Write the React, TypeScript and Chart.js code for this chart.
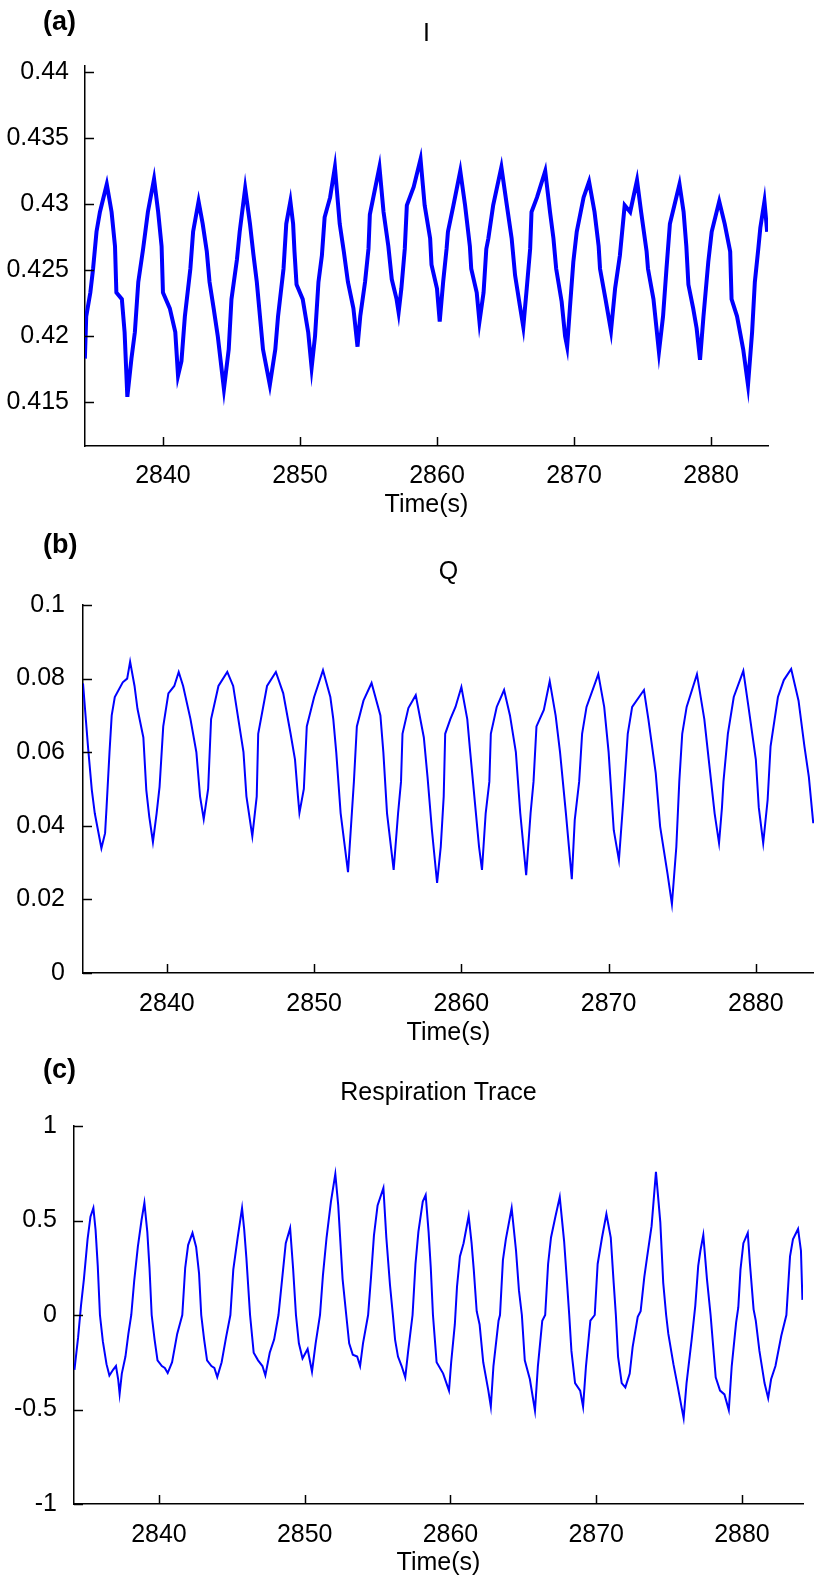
import React, { useEffect, useRef } from "react";
import { Chart, registerables } from "chart.js";
Chart.register(...registerables);

const X_TICKS = [2840, 2850, 2860, 2870, 2880];
const X_TICK_LABELS = ["2840", "2850", "2860", "2870", "2880"];
const I_TICKS = [0.415, 0.42, 0.425, 0.43, 0.435, 0.44];
const I_TICK_LABELS = ["0.415", "0.42", "0.425", "0.43", "0.435", "0.44"];
const Q_TICKS = [0, 0.02, 0.04, 0.06, 0.08, 0.1];
const Q_TICK_LABELS = ["0", "0.02", "0.04", "0.06", "0.08", "0.1"];
const R_TICKS = [-1, -0.5, 0, 0.5, 1];
const R_TICK_LABELS = ["-1", "-0.5", "0", "0.5", "1"];

const I_TIME = [
  2834.3, 2834.4, 2834.7, 2834.9, 2835.15, 2835.4, 2835.9, 2836.25, 2836.5, 2836.6, 2837.0, 2837.2, 2837.4, 2837.7, 2837.95,
  2838.2, 2838.55, 2838.9, 2839.35, 2839.65, 2839.9, 2840.0, 2840.5, 2840.9, 2841.1, 2841.35, 2841.6, 2842.0, 2842.2, 2842.6,
  2842.9, 2843.2, 2843.4, 2843.7, 2844.0, 2844.45, 2844.8, 2845.0, 2845.4, 2845.6, 2846.0, 2846.35, 2846.6, 2846.85, 2847.3,
  2847.8, 2848.2, 2848.4, 2848.8, 2849.0, 2849.3, 2849.5, 2849.6, 2849.75, 2850.2, 2850.6, 2850.85, 2851.1, 2851.35, 2851.6,
  2851.8, 2852.2, 2852.55, 2852.9, 2853.2, 2853.5, 2853.9, 2854.2, 2854.4, 2854.75, 2855.0, 2855.1, 2855.8, 2856.1, 2856.45,
  2856.7, 2857.05, 2857.2, 2857.4, 2857.65, 2857.8, 2858.3, 2858.8, 2859.1, 2859.5, 2859.6, 2860.0, 2860.2, 2860.45, 2860.7,
  2860.8, 2861.2, 2861.7, 2862.05, 2862.4, 2862.5, 2862.9, 2863.1, 2863.4, 2863.6, 2863.75, 2864.1, 2864.7, 2865.1, 2865.45,
  2865.7, 2866.05, 2866.3, 2866.55, 2866.8, 2866.9, 2867.3, 2867.9, 2868.25, 2868.5, 2868.7, 2869.1, 2869.35, 2869.5, 2869.7,
  2869.95, 2870.2, 2870.7, 2871.1, 2871.5, 2871.8, 2871.9, 2872.3, 2872.7, 2873.0, 2873.35, 2873.7, 2874.1, 2874.6, 2874.9,
  2875.3, 2875.4, 2875.8, 2876.2, 2876.5, 2876.75, 2877.0, 2877.7, 2878.0, 2878.2, 2878.35, 2878.7, 2878.95, 2879.2, 2879.45,
  2879.8, 2880.05, 2880.6, 2881.0, 2881.4, 2881.5, 2881.9, 2882.35, 2882.7, 2883.0, 2883.2, 2883.45, 2883.6, 2883.9, 2884.1,
];
const I_VALUE = [
  0.4183, 0.4215, 0.4233, 0.4251, 0.4279, 0.4294, 0.4315, 0.4294, 0.4268, 0.4233, 0.4228, 0.4203, 0.4154, 0.4183, 0.4203,
  0.4241, 0.4266, 0.4294, 0.4319, 0.4294, 0.4268, 0.4233, 0.4221, 0.4203, 0.417, 0.4181, 0.4215, 0.4251, 0.4279, 0.4302,
  0.4285, 0.4264, 0.4241, 0.4221, 0.42, 0.416, 0.419, 0.4228, 0.4258, 0.4279, 0.4312, 0.4285, 0.4262, 0.4241, 0.419,
  0.4163, 0.419, 0.4215, 0.4251, 0.4285, 0.4302, 0.4285, 0.4264, 0.4239, 0.4228, 0.4203, 0.4176, 0.42, 0.4241, 0.4261,
  0.429, 0.4305, 0.4328, 0.4285, 0.4264, 0.4241, 0.4221, 0.4192, 0.4215, 0.4241, 0.4266, 0.4292, 0.4328, 0.4294, 0.4268,
  0.4243, 0.4228, 0.4218, 0.4236, 0.4266, 0.4299, 0.4313, 0.4334, 0.4299, 0.4274, 0.4254, 0.4236, 0.4211, 0.4241, 0.4266,
  0.4279, 0.4299, 0.4325, 0.4299, 0.4268, 0.4251, 0.4233, 0.4211, 0.4233, 0.4266, 0.4274, 0.4299, 0.4328, 0.4299, 0.4274,
  0.4246, 0.4223, 0.4207, 0.4236, 0.4266, 0.4294, 0.4305, 0.4325, 0.4294, 0.4274, 0.4251, 0.4226, 0.42, 0.4192, 0.4221,
  0.4256, 0.4279, 0.4305, 0.4317, 0.4294, 0.4268, 0.4251, 0.4228, 0.4204, 0.4236, 0.4261, 0.4299, 0.4294, 0.4318, 0.4294,
  0.4264, 0.4251, 0.4228, 0.4188, 0.4215, 0.4251, 0.4285, 0.4315, 0.4294, 0.4268, 0.4239, 0.4221, 0.4206, 0.4182, 0.4215,
  0.4256, 0.4279, 0.4302, 0.4285, 0.4264, 0.4228, 0.4215, 0.419, 0.4163, 0.4203, 0.4241, 0.4266, 0.4282, 0.4302, 0.4279,
];

const Q_TIME = [
  2834.3, 2834.65, 2834.9, 2835.1, 2835.55, 2835.8, 2835.9, 2836.1, 2836.25, 2836.46, 2837.0, 2837.3, 2837.5, 2837.8, 2838.0,
  2838.4, 2838.6, 2838.8, 2839.05, 2839.3, 2839.5, 2839.75, 2840.1, 2840.5, 2840.8, 2841.1, 2841.6, 2842.0, 2842.25, 2842.5,
  2842.8, 2843.0, 2843.5, 2844.1, 2844.5, 2844.85, 2845.2, 2845.4, 2845.8, 2846.1, 2846.2, 2846.8, 2847.4, 2847.9, 2848.4,
  2848.7, 2848.9, 2849.0, 2849.3, 2849.5, 2850.0, 2850.6, 2851.1, 2851.3, 2851.5, 2851.8, 2852.3, 2852.56, 2852.7, 2852.9,
  2853.35, 2853.9, 2854.5, 2854.7, 2854.95, 2855.4, 2855.7, 2855.9, 2856.0, 2856.4, 2856.9, 2857.45, 2857.7, 2858.0, 2858.35,
  2858.6, 2858.8, 2858.9, 2859.25, 2859.6, 2860.0, 2860.4, 2860.6, 2861.2, 2861.4, 2861.65, 2861.9, 2862.0, 2862.4, 2862.9,
  2863.3, 2863.7, 2864.0, 2864.4, 2864.7, 2864.9, 2865.1, 2865.6, 2866.0, 2866.4, 2866.7, 2867.1, 2867.5, 2867.7, 2868.0,
  2868.2, 2868.5, 2869.3, 2869.7, 2870.0, 2870.35, 2870.7, 2871.0, 2871.3, 2871.6, 2872.4, 2872.7, 2873.2, 2873.5, 2874.0,
  2874.3, 2874.6, 2874.8, 2875.0, 2875.3, 2876.0, 2876.5, 2876.8, 2877.2, 2877.5, 2877.7, 2877.8, 2878.1, 2878.5, 2879.15,
  2879.5, 2880.0, 2880.2, 2880.5, 2880.8, 2881.0, 2881.5, 2881.9, 2882.4, 2882.9, 2883.3, 2883.6, 2883.9,
];
const Q_VALUE = [
  0.0787, 0.061, 0.0497, 0.0434, 0.0339, 0.038, 0.045, 0.06, 0.07, 0.075, 0.079, 0.08, 0.0846, 0.078, 0.0718,
  0.064, 0.0497, 0.0425, 0.0356, 0.0434, 0.0506, 0.067, 0.076, 0.078, 0.0818, 0.078, 0.069, 0.06, 0.048, 0.0418,
  0.05, 0.069, 0.078, 0.0818, 0.078, 0.069, 0.06, 0.048, 0.0372, 0.048, 0.065, 0.078, 0.0818, 0.076, 0.065,
  0.058, 0.048, 0.0435, 0.05, 0.067, 0.075, 0.0823, 0.075, 0.069, 0.06, 0.0434, 0.0274, 0.0434, 0.052, 0.067,
  0.074, 0.0788, 0.07, 0.06, 0.0434, 0.028, 0.0434, 0.052, 0.065, 0.072, 0.0755, 0.064, 0.0533, 0.0388, 0.0245,
  0.0343, 0.048, 0.065, 0.069, 0.0723, 0.0777, 0.069, 0.06, 0.0343, 0.028, 0.0434, 0.052, 0.065, 0.0723, 0.0769,
  0.07, 0.06, 0.0434, 0.0266, 0.0434, 0.052, 0.067, 0.0715, 0.0793, 0.07, 0.06, 0.0434, 0.0255, 0.0416, 0.052,
  0.065, 0.0723, 0.0812, 0.0723, 0.06, 0.0388, 0.0307, 0.047, 0.065, 0.0723, 0.0769, 0.069, 0.0543, 0.0398, 0.027,
  0.0187, 0.0343, 0.052, 0.065, 0.0723, 0.0812, 0.069, 0.058, 0.0434, 0.0353, 0.045, 0.052, 0.065, 0.075, 0.0821,
  0.0723, 0.058, 0.045, 0.0353, 0.047, 0.0616, 0.075, 0.0796, 0.0826, 0.074, 0.0616, 0.0533, 0.0407,
];

const R_TIME = [
  2834.2, 2834.45, 2834.65, 2834.85, 2835.1, 2835.3, 2835.5, 2835.65, 2835.8, 2835.95, 2836.15, 2836.4, 2836.6, 2836.85, 2837.05,
  2837.2, 2837.3, 2837.45, 2837.7, 2837.9, 2838.1, 2838.3, 2838.55, 2838.8, 2839.0, 2839.2, 2839.35, 2839.5, 2839.7, 2839.9,
  2840.2, 2840.4, 2840.6, 2840.9, 2841.25, 2841.6, 2841.8, 2842.0, 2842.3, 2842.55, 2842.75, 2842.9, 2843.1, 2843.3, 2843.6,
  2843.8, 2844.0, 2844.3, 2844.6, 2844.9, 2845.1, 2845.4, 2845.7, 2845.85, 2846.0, 2846.25, 2846.5, 2846.8, 2847.1, 2847.3,
  2847.6, 2847.9, 2848.2, 2848.45, 2848.7, 2849.0, 2849.2, 2849.4, 2849.6, 2849.85, 2850.2, 2850.5, 2850.75, 2851.05, 2851.25,
  2851.5, 2851.8, 2852.1, 2852.3, 2852.6, 2852.85, 2853.05, 2853.3, 2853.6, 2853.8, 2854.0, 2854.35, 2854.55, 2854.75, 2855.0,
  2855.4, 2855.6, 2855.85, 2856.05, 2856.2, 2856.4, 2856.65, 2856.9, 2857.1, 2857.4, 2857.6, 2857.8, 2858.1, 2858.3, 2858.5,
  2858.65, 2858.8, 2859.05, 2859.5, 2859.9, 2860.05, 2860.3, 2860.45, 2860.65, 2860.9, 2861.25, 2861.45, 2861.6, 2861.8, 2862.0,
  2862.25, 2862.6, 2862.77, 2862.95, 2863.3, 2863.4, 2863.6, 2863.8, 2864.2, 2864.5, 2864.7, 2864.9, 2865.1, 2865.45, 2865.8,
  2866.0, 2866.3, 2866.5, 2866.7, 2866.9, 2867.2, 2867.5, 2867.8, 2868.0, 2868.15, 2868.3, 2868.55, 2868.9, 2869.1, 2869.3,
  2869.6, 2869.9, 2870.1, 2870.4, 2870.7, 2871.0, 2871.2, 2871.35, 2871.5, 2871.75, 2872.0, 2872.3, 2872.5, 2872.85, 2873.05,
  2873.3, 2873.5, 2873.8, 2874.1, 2874.4, 2874.6, 2874.8, 2874.95, 2875.3, 2875.6, 2875.85, 2876.0, 2876.2, 2876.55, 2876.8,
  2877.0, 2877.15, 2877.35, 2877.6, 2877.85, 2878.2, 2878.5, 2878.8, 2879.1, 2879.3, 2879.6, 2879.75, 2879.9, 2880.1, 2880.4,
  2880.55, 2880.8, 2880.95, 2881.2, 2881.55, 2881.8, 2882.0, 2882.3, 2882.7, 2883.05, 2883.3, 2883.5, 2883.85, 2884.05, 2884.15,
];
const R_VALUE = [
  -0.29, -0.12, 0.05, 0.19, 0.4, 0.52, 0.566, 0.45, 0.26, 0.0, -0.14, -0.26, -0.32, -0.29, -0.27,
  -0.34, -0.418, -0.31, -0.22, -0.1, 0.0, 0.18, 0.36, 0.5, 0.593, 0.44, 0.25, 0.0, -0.13, -0.24,
  -0.27, -0.28, -0.307, -0.25, -0.1, 0.0, 0.25, 0.37, 0.434, 0.36, 0.22, 0.0, -0.13, -0.24, -0.27,
  -0.28, -0.328, -0.25, -0.12, 0.0, 0.24, 0.41, 0.566, 0.45, 0.3, 0.0, -0.2, -0.24, -0.27, -0.32,
  -0.2, -0.13, 0.0, 0.19, 0.38, 0.46, 0.25, 0.0, -0.15, -0.23, -0.18, -0.3, -0.15, 0.0, 0.21,
  0.41, 0.6, 0.746, 0.58, 0.19, 0.0, -0.15, -0.21, -0.22, -0.27, -0.15, 0.0, 0.2, 0.42, 0.58,
  0.672, 0.41, 0.16, 0.0, -0.13, -0.22, -0.27, -0.33, -0.19, 0.0, 0.27, 0.44, 0.6, 0.635, 0.44,
  0.25, 0.0, -0.25, -0.31, -0.4, -0.25, -0.05, 0.15, 0.31, 0.38, 0.524, 0.38, 0.24, 0.02, -0.05,
  -0.25, -0.4, -0.485, -0.27, -0.03, 0.0, 0.29, 0.4, 0.566, 0.34, 0.13, 0.0, -0.24, -0.34, -0.506,
  -0.27, -0.03, 0.0, 0.27, 0.41, 0.52, 0.624, 0.39, 0.17, 0.0, -0.19, -0.36, -0.4, -0.485, -0.27,
  -0.03, 0.0, 0.27, 0.41, 0.534, 0.41, 0.17, 0.0, -0.22, -0.36, -0.383, -0.31, -0.17, -0.01, 0.02,
  0.2, 0.31, 0.47, 0.757, 0.49, 0.17, 0.0, -0.1, -0.26, -0.38, -0.485, -0.546, -0.36, -0.13, 0.05,
  0.26, 0.34, 0.423, 0.19, 0.0, -0.33, -0.4, -0.42, -0.503, -0.27, -0.04, 0.04, 0.24, 0.38, 0.434,
  0.27, 0.03, -0.03, -0.19, -0.36, -0.44, -0.34, -0.27, -0.11, 0.0, 0.31, 0.4, 0.455, 0.34, 0.08,
];

const FONT = "'Liberation Sans', Arial, sans-serif";

const inwardTicks = {
  id: "inwardTicks",
  afterDraw(chart: any) {
    const { ctx, chartArea, scales } = chart;
    const len = 9;
    ctx.save();
    ctx.strokeStyle = "#000";
    ctx.lineWidth = 1.5;
    scales.x.ticks.forEach((t: any) => {
      const px = Math.round(scales.x.getPixelForValue(t.value)) + 0.5;
      ctx.beginPath();
      ctx.moveTo(px, chartArea.bottom);
      ctx.lineTo(px, chartArea.bottom - len);
      ctx.stroke();
    });
    scales.y.ticks.forEach((t: any) => {
      const py = Math.round(scales.y.getPixelForValue(t.value)) + 0.5;
      ctx.beginPath();
      ctx.moveTo(chartArea.left, py);
      ctx.lineTo(chartArea.left + len, py);
      ctx.stroke();
    });
    ctx.restore();
  },
};

type PanelCfg = {
  top: number;
  height: number;
  title: string;
  titleTop: number;
  titleBottom: number;
  left: number;
  padRight: number;
  xH: number;
  xPad: number;
  yPad: number;
  xMin: number;
  xMax: number;
  yMin: number;
  yMax: number;
  yTicks: number[];
  yLabels: string[];
  times: number[];
  values: number[];
  lineWidth: number;
};

function Panel({ cfg }: { cfg: PanelCfg }) {
  const ref = useRef<HTMLCanvasElement>(null);
  useEffect(() => {
    const pts = cfg.times.map((t, i) => ({ x: t, y: cfg.values[i] }));
    const chart = new Chart(ref.current as HTMLCanvasElement, {
      type: "line",
      data: {
        datasets: [
          {
            data: pts,
            borderColor: "#0000ff",
            borderWidth: cfg.lineWidth,
            pointRadius: 0,
            tension: 0,
            fill: false,
            borderJoinStyle: "miter",
          },
        ],
      },
      options: {
        animation: false,
        responsive: false,
        maintainAspectRatio: false,
        devicePixelRatio: 1,
        events: [],
        layout: { padding: { left: 0, right: cfg.padRight, top: 0, bottom: 0 } },
        plugins: {
          legend: { display: false },
          tooltip: { enabled: false },
          title: {
            display: true,
            text: cfg.title,
            fullSize: false,
            color: "#000",
            font: { size: 25, weight: "normal", family: FONT, lineHeight: 1.2 },
            padding: { top: cfg.titleTop, bottom: cfg.titleBottom },
          },
        },
        scales: {
          x: {
            type: "linear",
            position: "bottom",
            min: cfg.xMin,
            max: cfg.xMax,
            grid: { display: false },
            border: { display: true, color: "#000", width: 1.5 },
            afterFit: (s: any) => {
              s.height = cfg.xH;
            },
            afterBuildTicks: (s: any) => {
              s.ticks = X_TICKS.map((v) => ({ value: v }));
            },
            ticks: {
              autoSkip: false,
              maxRotation: 0,
              minRotation: 0,
              padding: cfg.xPad,
              color: "#000",
              font: { size: 25, family: FONT, lineHeight: 1.2 },
              callback: (_v: any, i: number) => X_TICK_LABELS[i],
            },
            title: {
              display: true,
              text: "Time(s)",
              color: "#000",
              font: { size: 25, family: FONT, lineHeight: 1.2 },
              padding: 0,
            },
          },
          y: {
            type: "linear",
            position: "left",
            min: cfg.yMin,
            max: cfg.yMax,
            grid: { display: false },
            border: { display: true, color: "#000", width: 1.5 },
            afterFit: (s: any) => {
              s.width = cfg.left;
            },
            afterBuildTicks: (s: any) => {
              s.ticks = cfg.yTicks.map((v) => ({ value: v }));
            },
            ticks: {
              autoSkip: false,
              padding: cfg.yPad,
              color: "#000",
              font: { size: 25, family: FONT, lineHeight: 1.2 },
              callback: (_v: any, i: number) => cfg.yLabels[i],
            },
          },
        },
      } as any,
      plugins: [inwardTicks],
    });
    return () => chart.destroy();
  }, []);
  return (
    <canvas
      ref={ref}
      width={814}
      height={cfg.height}
      style={{ position: "absolute", left: 0, top: cfg.top, width: 814, height: cfg.height }}
    />
  );
}

const PANELS: PanelCfg[] = [
  {
    top: 0, height: 520, title: "I", titleTop: 19, titleBottom: 17, left: 85, padRight: 46, xH: 74, xPad: 7, yPad: 8,
    xMin: 2834.31, xMax: 2884.16, yMin: 0.41168, yMax: 0.44045, yTicks: I_TICKS, yLabels: I_TICK_LABELS,
    times: I_TIME, values: I_VALUE, lineWidth: 4,
  },
  {
    top: 520, height: 528, title: "Q", titleTop: 37, titleBottom: 18, left: 83, padRight: 0, xH: 75, xPad: 8, yPad: 10,
    xMin: 2834.3, xMax: 2883.95, yMin: 0, yMax: 0.1, yTicks: Q_TICKS, yLabels: Q_TICK_LABELS,
    times: Q_TIME, values: Q_VALUE, lineWidth: 2,
  },
  {
    top: 1050, height: 528, title: "Respiration Trace", titleTop: 28, titleBottom: 18, left: 74, padRight: 11, xH: 74, xPad: 8, yPad: 9,
    xMin: 2834.17, xMax: 2884.19, yMin: -1, yMax: 1, yTicks: R_TICKS, yLabels: R_TICK_LABELS,
    times: R_TIME, values: R_VALUE, lineWidth: 2,
  },
];

const PANEL_LABELS = [
  { text: "(a)", top: 8 },
  { text: "(b)", top: 531 },
  { text: "(c)", top: 1056 },
];

export default function App() {
  return (
    <div style={{ position: "absolute", left: 0, top: 0, width: 814, height: 1583, background: "#fff", overflow: "hidden" }}>
      {PANELS.map((p, i) => (
        <Panel key={i} cfg={p} />
      ))}
      {PANEL_LABELS.map((l, i) => (
        <div
          key={i}
          style={{
            position: "absolute",
            left: 43,
            top: l.top,
            fontFamily: FONT,
            fontWeight: "bold",
            fontSize: 27,
            lineHeight: "27px",
            color: "#000",
          }}
        >
          {l.text}
        </div>
      ))}
    </div>
  );
}
